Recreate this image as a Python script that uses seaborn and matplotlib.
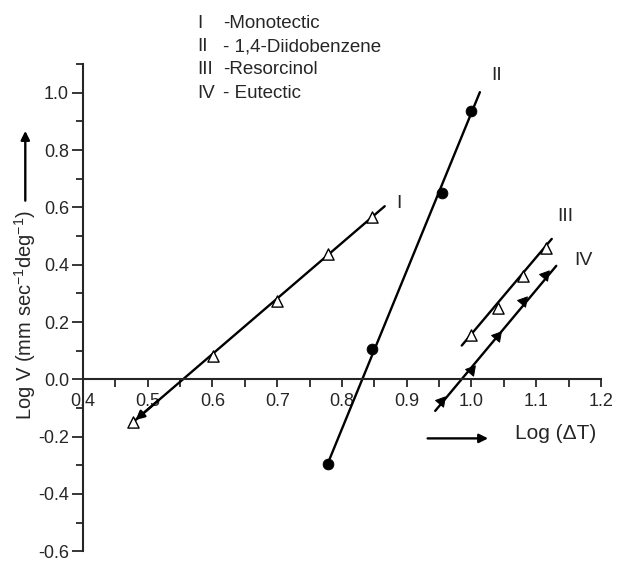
import numpy as np
import pandas as pd
import seaborn as sns
import matplotlib.pyplot as plt
from matplotlib.patches import FancyArrowPatch
from matplotlib.ticker import MultipleLocator, FixedLocator

sns.set_style("ticks")
plt.rcParams['font.family'] = ['Liberation Sans', 'DejaVu Sans']
plt.rcParams['mathtext.fontset'] = 'custom'
plt.rcParams['mathtext.rm'] = 'Liberation Sans'
plt.rcParams['mathtext.default'] = 'regular'
plt.rcParams['axes.unicode_minus'] = False

# data points
x_I   = [0.478, 0.601, 0.700, 0.779, 0.847]
y_I   = [-0.148, 0.081, 0.275, 0.437, 0.567]
x_II  = [0.778, 0.847, 0.955, 1.000]
y_II  = [-0.294, 0.107, 0.650, 0.938]
x_III = [1.000, 1.041, 1.080, 1.115]
y_III = [0.156, 0.248, 0.362, 0.459]
x_IV  = [0.953, 1.000, 1.040, 1.079, 1.114]
y_IV  = [-0.074, 0.031, 0.152, 0.273, 0.363]

# fitted lines (end points)
fit_I   = ([0.478, 0.866], [-0.148, 0.604])
fit_II  = ([0.778, 1.013], [-0.294, 1.002])
fit_III = ([0.985, 1.124], [0.118, 0.490])
fit_IV  = ([0.944, 1.131], [-0.110, 0.396])

numerals = ['I', 'II', 'III', 'IV']
names = ['-Monotectic', '- 1,4-Diidobenzene', '-Resorcinol', '- Eutectic']
label_pos = [(0.884, 0.615), (1.031, 1.060), (1.132, 0.569), (1.159, 0.413)]

fig = plt.figure(figsize=(6.17, 5.62), dpi=100)
ax = fig.add_axes([0.1345, 0.019, 0.8395, 0.867])

for fx, fy in [fit_I, fit_II, fit_III, fit_IV]:
    sns.lineplot(x=fx, y=fy, ax=ax, color='black', linewidth=1.7,
                 sort=False, estimator=None, zorder=2)

sns.scatterplot(x=x_I, y=y_I, ax=ax, marker='^', s=65, facecolor='white',
                edgecolor='black', linewidth=1.0, zorder=3)
sns.scatterplot(x=x_II, y=y_II, ax=ax, marker='o', s=60, color='black',
                edgecolor='black', zorder=3)
sns.scatterplot(x=x_III, y=y_III, ax=ax, marker='^', s=65, facecolor='white',
                edgecolor='black', linewidth=1.0, zorder=3)
sns.scatterplot(x=x_IV, y=y_IV, ax=ax, marker=(3, 0, -40), s=75, color='black',
                edgecolor='black', zorder=3)

# arrow head at lower end of line I
ax.annotate('', xy=(x_I[0], y_I[0]), xytext=(0.52, -0.066),
            arrowprops=dict(arrowstyle='-|>', color='black', lw=1.7,
                            mutation_scale=13))

for (lx, ly), t in zip(label_pos, numerals):
    ax.text(lx, ly, t, fontsize=14, ha='left', va='center')

ax.set_xlim(0.4, 1.2)
ax.set_ylim(-0.6, 1.1)
ax.spines['bottom'].set_position(('data', 0))
ax.spines['top'].set_visible(False)
ax.spines['right'].set_visible(False)
for sp in ['left', 'bottom']:
    ax.spines[sp].set_linewidth(1.5)

ax.xaxis.set_major_locator(MultipleLocator(0.1))
ax.xaxis.set_minor_locator(MultipleLocator(0.05))
ax.yaxis.set_major_locator(FixedLocator([-0.6, -0.4, -0.2, 0.0, 0.2, 0.4, 0.6, 0.8, 1.0]))
ax.yaxis.set_minor_locator(MultipleLocator(0.1))
ax.xaxis.set_major_formatter(plt.FuncFormatter(lambda v, p: f'{v:.1f}'))
ax.yaxis.set_major_formatter(plt.FuncFormatter(lambda v, p: f'{v:.1f}'))
ax.tick_params(axis='x', which='major', direction='out', length=6, width=1.3,
               labelsize=13, pad=4)
ax.tick_params(axis='x', which='minor', direction='out', length=6, width=1.3)
ax.tick_params(axis='y', which='major', direction='out', length=8, width=1.3,
               labelsize=13, pad=2)
ax.tick_params(axis='y', which='minor', direction='out', length=5, width=1.3)

ax.set_xlabel('')
ax.set_ylabel('')

# x axis title with arrow
ax.text(1.13, -0.19, 'Log (\u0394T)', fontsize=15, ha='center', va='center')
ax.annotate('', xy=(1.030, -0.206), xytext=(0.928, -0.206),
            arrowprops=dict(arrowstyle='-|>', color='black', lw=1.7,
                            mutation_scale=13))

# y axis title with arrow
fig.text(0.041, 0.440, r'Log V (mm sec$^{-1}$deg$^{-1}$)', fontsize=14.5,
         rotation=90, ha='center', va='center')
fig.patches.append(FancyArrowPatch(
    (0.041, 0.638), (0.041, 0.772), transform=fig.transFigure,
    arrowstyle='-|>', color='black', lw=1.7, mutation_scale=13))

# legend text at top
for i, (n, t) in enumerate(zip(numerals, names)):
    yy = 1 - (23 + 23.5 * i) / 562
    fig.text(197 / 617, yy, n, fontsize=13.5, ha='left', va='center')
    fig.text(223 / 617, yy, t, fontsize=13.5, ha='left', va='center')

fig.savefig('out.png', dpi=100)
